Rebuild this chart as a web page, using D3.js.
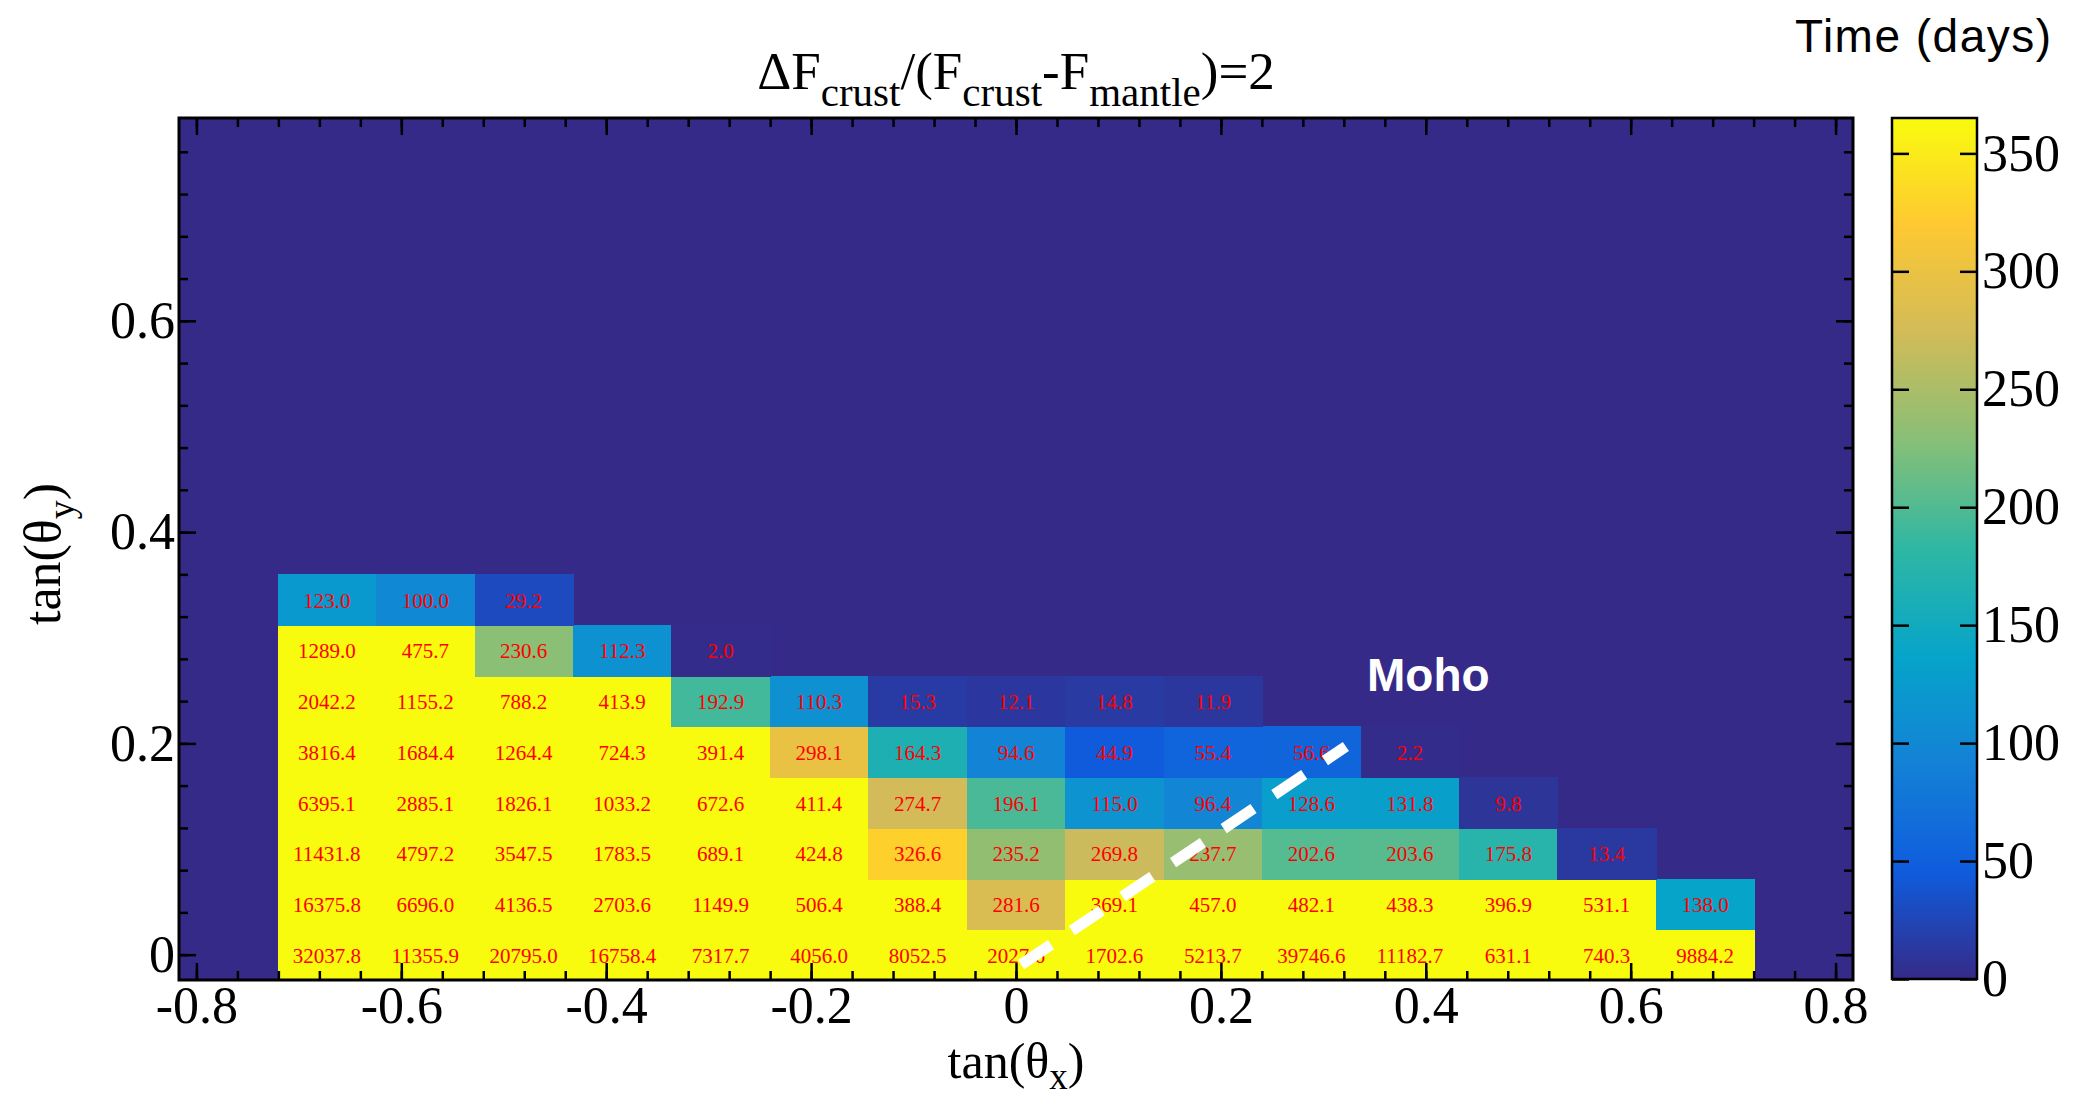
<!DOCTYPE html>
<html>
<head>
<meta charset="utf-8">
<script src="https://cdn.jsdelivr.net/npm/d3@7/dist/d3.min.js"></script>
<style>
  html, body { margin: 0; padding: 0; background: #ffffff; }
  svg { display: block; }
</style>
</head>
<body>
<svg id="chart" width="2076" height="1096"></svg>
<script>
// ---------------- DATA ----------------
// x bin centres, tan(theta_x)
const tanXBins = [-0.6727, -0.5766, -0.4805, -0.3844, -0.2883, -0.1922, -0.0961, 0.0,
                  0.0961, 0.1922, 0.2883, 0.3844, 0.4805, 0.5766, 0.6727];
// y bin centres, tan(theta_y)
const tanYBins = [0.0, 0.048, 0.096, 0.144, 0.192, 0.240, 0.288, 0.336];
const binWidthX = 0.0961;
const binHeightY = 0.048;

// Time (days) per bin, one array per y row (null = empty bin)
const row0 = [32037.8, 11355.9, 20795.0, 16758.4, 7317.7, 4056.0, 8052.5, 2027.6, 1702.6, 5213.7, 39746.6, 11182.7, 631.1, 740.3, 9884.2];
const row1 = [16375.8, 6696.0, 4136.5, 2703.6, 1149.9, 506.4, 388.4, 281.6, 369.1, 457.0, 482.1, 438.3, 396.9, 531.1, 138.0];
const row2 = [11431.8, 4797.2, 3547.5, 1783.5, 689.1, 424.8, 326.6, 235.2, 269.8, 237.7, 202.6, 203.6, 175.8, 13.4, null];
const row3 = [6395.1, 2885.1, 1826.1, 1033.2, 672.6, 411.4, 274.7, 196.1, 115.0, 96.4, 128.6, 131.8, 9.8, null, null];
const row4 = [3816.4, 1684.4, 1264.4, 724.3, 391.4, 298.1, 164.3, 94.6, 44.9, 55.4, 56.6, 2.2, null, null, null];
const row5 = [2042.2, 1155.2, 788.2, 413.9, 192.9, 110.3, 15.3, 12.1, 14.8, 11.9, null, null, null, null, null];
const row6 = [1289.0, 475.7, 230.6, 112.3, 2.0, null, null, null, null, null, null, null, null, null, null];
const row7 = [123.0, 100.0, 29.2, null, null, null, null, null, null, null, null, null, null, null, null];
const timeRows = [row0, row1, row2, row3, row4, row5, row6, row7];

// tick labels
const xTickValues = [-0.8, -0.6, -0.4, -0.2, 0, 0.2, 0.4, 0.6, 0.8];
const yTickValues = [0, 0.2, 0.4, 0.6];
const zTickValues = [0, 50, 100, 150, 200, 250, 300, 350];

// Moho line end points (tan x, tan y)
const mohoX = [0.005, 0.322];
const mohoY = [-0.0095, 0.197];

// kBird palette
const paletteStops = [0, 0.125, 0.25, 0.375, 0.5, 0.625, 0.75, 0.875, 1];
const paletteColors = ["#352a87", "#0f5cdd", "#1481d6", "#06a4ca", "#2eb7a4",
                       "#87bf77", "#d1bb59", "#fec832", "#f9fb0e"];
const zMax = 365;

// ---------------- LAYOUT ----------------
const svg = d3.select("#chart");
const F = { left: 179, right: 1853, top: 118, bottom: 980 };
const CB = { left: 1892, right: 1977, top: 118, bottom: 979 };
const serif = "'Liberation Serif', 'Times New Roman', serif";
const sans = "'Liberation Sans', Arial, sans-serif";

const x = d3.scaleLinear().domain([-0.817, 0.817]).range([F.left, F.right]);
const y = d3.scaleLinear().domain([-0.024, 0.792]).range([F.bottom, F.top]);
const color = d3.scaleLinear()
  .domain(paletteStops.map(s => s * zMax))
  .range(paletteColors)
  .clamp(true);

// frame background
svg.append("rect")
  .attr("x", F.left).attr("y", F.top)
  .attr("width", F.right - F.left).attr("height", F.bottom - F.top)
  .attr("fill", paletteColors[0]);

// cells
const cells = [];
timeRows.forEach((row, j) => {
  row.forEach((v, i) => {
    if (v !== null) cells.push({ tx: tanXBins[i], ty: tanYBins[j], v });
  });
});

const xl = d => Math.round(x(d.tx - binWidthX / 2));
const xr = d => Math.round(x(d.tx + binWidthX / 2));
const yt0 = d => Math.round(y(d.ty + binHeightY / 2));
const yb0 = d => Math.round(y(d.ty - binHeightY / 2));

const gCells = svg.append("g").attr("shape-rendering", "crispEdges");
gCells.selectAll("rect").data(cells).join("rect")
  .attr("x", d => xl(d))
  .attr("y", d => yt0(d))
  .attr("width", d => xr(d) - xl(d) + 1)
  .attr("height", d => yb0(d) - yt0(d) + 1)
  .attr("fill", d => color(d.v));

svg.append("g").selectAll("text").data(cells).join("text")
  .attr("x", d => x(d.tx))
  .attr("y", d => y(d.ty))
  .attr("dy", "0.38em")
  .attr("text-anchor", "middle")
  .attr("font-family", serif)
  .attr("font-size", 21)
  .attr("fill", "#ff0000")
  .text(d => d.v.toFixed(1));

// Moho dashed line
svg.append("path")
  .attr("d", d3.line()([[x(mohoX[0]), y(mohoY[0])], [x(mohoX[1]), y(mohoY[1])]]))
  .attr("stroke", "#ffffff")
  .attr("stroke-width", 11)
  .attr("stroke-dasharray", "36,25")
  .attr("fill", "none");

svg.append("text")
  .attr("x", 1367).attr("y", 691)
  .attr("font-family", sans).attr("font-weight", "bold")
  .attr("font-size", 46).attr("fill", "#ffffff")
  .text("Moho");

// ---------------- AXES ----------------
const fmt = d => (d === 0 ? "0" : d.toFixed(1));
const xMinor = d3.range(-20, 21).map(k => k * 0.04).filter(v => Math.abs(v) <= 0.81);
const yMinor = d3.range(0, 20).map(k => k * 0.04);

function styleAxis(g) {
  g.select(".domain").remove();
  g.selectAll(".tick line").attr("stroke", "#000").attr("stroke-width", 2.5);
  g.selectAll(".tick text").attr("font-family", serif).attr("font-size", 52).attr("fill", "#000");
}

// bottom
svg.append("g").attr("transform", `translate(0,${F.bottom})`)
  .call(d3.axisBottom(x).tickValues(xMinor).tickSize(-9).tickFormat("")).call(styleAxis);
svg.append("g").attr("transform", `translate(0,${F.bottom})`)
  .call(d3.axisBottom(x).tickValues(xTickValues).tickSize(-17).tickPadding(6).tickFormat(fmt)).call(styleAxis);
// top
svg.append("g").attr("transform", `translate(0,${F.top})`)
  .call(d3.axisTop(x).tickValues(xMinor).tickSize(-9).tickFormat("")).call(styleAxis);
svg.append("g").attr("transform", `translate(0,${F.top})`)
  .call(d3.axisTop(x).tickValues(xTickValues).tickSize(-17).tickFormat("")).call(styleAxis);
// left
svg.append("g").attr("transform", `translate(${F.left},0)`)
  .call(d3.axisLeft(y).tickValues(yMinor).tickSize(-9).tickFormat("")).call(styleAxis);
svg.append("g").attr("transform", `translate(${F.left},0)`)
  .call(d3.axisLeft(y).tickValues(yTickValues).tickSize(-17).tickPadding(4).tickFormat(fmt)).call(styleAxis);
// right
svg.append("g").attr("transform", `translate(${F.right},0)`)
  .call(d3.axisRight(y).tickValues(yMinor).tickSize(-9).tickFormat("")).call(styleAxis);
svg.append("g").attr("transform", `translate(${F.right},0)`)
  .call(d3.axisRight(y).tickValues(yTickValues).tickSize(-17).tickFormat("")).call(styleAxis);

// frame
svg.append("rect")
  .attr("x", F.left).attr("y", F.top)
  .attr("width", F.right - F.left).attr("height", F.bottom - F.top)
  .attr("fill", "none").attr("stroke", "#000").attr("stroke-width", 3);

// axis titles
const xt = svg.append("text")
  .attr("x", x(0)).attr("y", 1078)
  .attr("text-anchor", "middle")
  .attr("font-family", serif).attr("font-size", 50).attr("fill", "#000");
xt.append("tspan").text("tan(θ");
xt.append("tspan").attr("font-size", 37).attr("dy", 11).text("x");
xt.append("tspan").attr("dy", -11).text(")");

const yt = svg.append("text")
  .attr("transform", `translate(60,${(F.top + F.bottom) / 2 + 5}) rotate(-90)`)
  .attr("text-anchor", "middle")
  .attr("font-family", serif).attr("font-size", 52).attr("fill", "#000");
yt.append("tspan").text("tan(θ");
yt.append("tspan").attr("font-size", 38).attr("dy", 14).text("y");
yt.append("tspan").attr("dy", -14).text(")");

// title
const tt = svg.append("text")
  .attr("x", x(0)).attr("y", 89)
  .attr("text-anchor", "middle")
  .attr("font-family", serif).attr("font-size", 53).attr("fill", "#000");
tt.append("tspan").text("ΔF");
tt.append("tspan").attr("font-size", 41).attr("dy", 17).text("crust");
tt.append("tspan").attr("dy", -17).text("/(F");
tt.append("tspan").attr("font-size", 41).attr("dy", 17).text("crust");
tt.append("tspan").attr("dy", -17).text("-F");
tt.append("tspan").attr("font-size", 41).attr("dy", 17).text("mantle");
tt.append("tspan").attr("dy", -17).text(")=2");

// ---------------- COLOR BAR ----------------
const z = d3.scaleLinear().domain([0, zMax]).range([CB.bottom, CB.top]);
const cbSteps = d3.range(0, zMax, 1);
svg.append("g").attr("shape-rendering", "crispEdges")
  .selectAll("rect").data(cbSteps).join("rect")
  .attr("x", CB.left)
  .attr("y", d => z(d + 1))
  .attr("width", CB.right - CB.left)
  .attr("height", d => z(d) - z(d + 1) + 0.6)
  .attr("fill", d => color(d + 0.5));

svg.append("g").attr("transform", `translate(${CB.right},0)`)
  .call(d3.axisRight(z).tickValues(zTickValues).tickSize(-17).tickPadding(5).tickFormat(d3.format("d")))
  .call(styleAxis);
svg.append("g").attr("transform", `translate(${CB.left},0)`)
  .call(d3.axisLeft(z).tickValues(zTickValues).tickSize(-17).tickFormat(""))
  .call(styleAxis);
svg.append("rect")
  .attr("x", CB.left).attr("y", CB.top)
  .attr("width", CB.right - CB.left).attr("height", CB.bottom - CB.top)
  .attr("fill", "none").attr("stroke", "#000").attr("stroke-width", 2.5);

svg.append("text")
  .attr("x", 1795).attr("y", 52)
  .attr("font-family", sans).attr("font-size", 46)
  .attr("letter-spacing", 1.5).attr("fill", "#000")
  .text("Time (days)");
</script>
</body>
</html>
